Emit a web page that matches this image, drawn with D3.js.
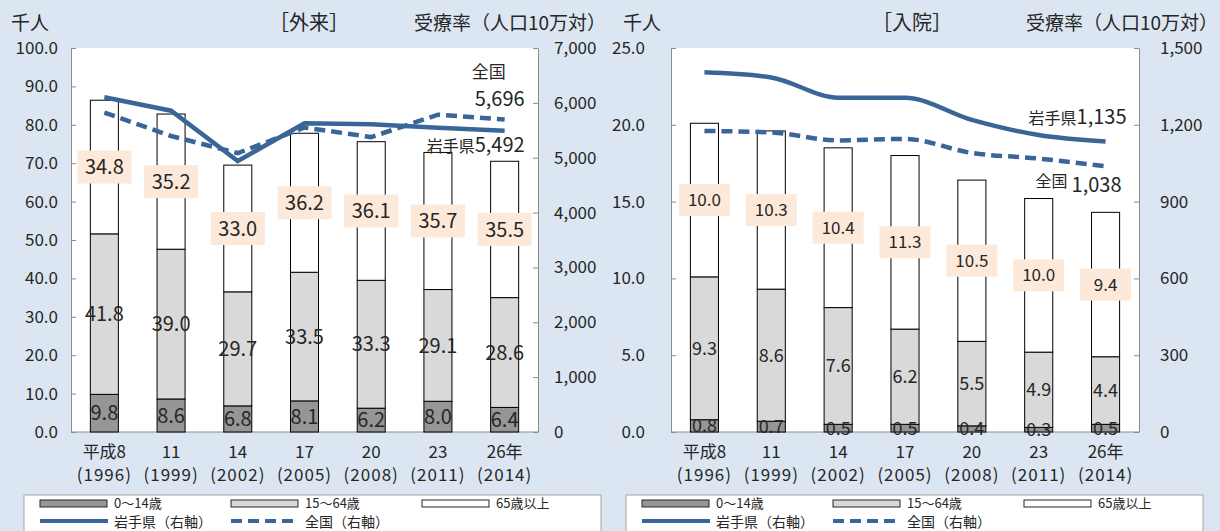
<!DOCTYPE html>
<html>
<head>
<meta charset="utf-8">
<script src="https://cdn.jsdelivr.net/npm/d3@7"></script>
<style>
body { margin: 0; background: #fff; }
text { font-family: "Noto Sans CJK JP", sans-serif; fill: #262626; }
</style>
</head>
<body>
<script>
/*category labels*/
var years = ["平成8", "11", "14", "17", "20", "23", "26年"];
var yearsAD = ["(1996)", "(1999)", "(2002)", "(2005)", "(2008)", "(2011)", "(2014)"];

/*外来 (thousand people) and 受療率*/
var outChild = [9.8, 8.6, 6.8, 8.1, 6.2, 8.0, 6.4];
var outWork = [41.8, 39.0, 29.7, 33.5, 33.3, 29.1, 28.6];
var outElder = [34.8, 35.2, 33.0, 36.2, 36.1, 35.7, 35.5];
var outIwate = [6103, 5857, 4940, 5627, 5610, 5545, 5492];
var outJapan = [5824, 5396, 5083, 5551, 5376, 5784, 5696];

/*入院 (thousand people) and 受療率*/
var inChild = [0.8, 0.7, 0.5, 0.5, 0.4, 0.3, 0.5];
var inWork = [9.3, 8.6, 7.6, 6.2, 5.5, 4.9, 4.4];
var inElder = [10.0, 10.3, 10.4, 11.3, 10.5, 10.0, 9.4];
var inIwate = [1405, 1385, 1306, 1306, 1219, 1160, 1135];
var inJapan = [1176, 1170, 1139, 1145, 1090, 1068, 1038];

/*axis ranges*/
var outLeftTicks = d3.range(0, 100.1, 10);
var outRightTicks = d3.range(0, 7001, 1000);
var inLeftTicks = d3.range(0, 25.1, 5);
var inRightTicks = d3.range(0, 1501, 300);

var ageNames = ["0〜14歳", "15〜64歳", "65歳以上"];
var lineNames = ["岩手県（右軸）", "全国（右軸）"];

var bgColor = "#dce6f2";
var lineColor = "#3a6599";
var ageFills = ["#969696", "#d9d9d9", "#ffffff"];

var svg = d3.select("body").append("svg")
	.attr("width", 1220)
	.attr("height", 531);

svg.append("rect")
	.attr("width", 1220).attr("height", 531)
	.attr("fill", bgColor);

/*left panel: outpatients*/
drawPanel({
	left: 0, x0: 71, x1: 538, y0: 48, y1: 432,
	title: "［外来］", titleX: 309,
	child: outChild, work: outWork, elder: outElder,
	iwate: outIwate, japan: outJapan,
	leftTicks: outLeftTicks, rightTicks: outRightTicks,
	leftPad: 13, rightPad: 16,
	boxW: 54, boxH: 33, boxFont: 20, innerFont: 20,
	smooth: false, legendX: 24, legendW: 577
});

/*right panel: inpatients*/
drawPanel({
	left: 612, x0: 671, x1: 1139, y0: 48, y1: 432,
	title: "［入院］", titleX: 912,
	child: inChild, work: inWork, elder: inElder,
	iwate: inIwate, japan: inJapan,
	leftTicks: inLeftTicks, rightTicks: inRightTicks,
	leftPad: 26, rightPad: 21,
	boxW: 51, boxH: 32, boxFont: 17, innerFont: 18,
	smooth: true, legendX: 626, legendW: 577
});

function drawPanel(cfg) {
	var g = svg.append("g");

	/*plot area*/
	g.append("rect")
		.attr("x", cfg.x0).attr("y", cfg.y0)
		.attr("width", cfg.x1 - cfg.x0).attr("height", cfg.y1 - cfg.y0)
		.attr("fill", "#fff");

	var x = d3.scaleBand()
		.domain(years)
		.range([cfg.x0, cfg.x1])
		.paddingInner(0.58)
		.paddingOuter(0.29);

	var yLeft = d3.scaleLinear()
		.domain([0, d3.max(cfg.leftTicks)])
		.range([cfg.y1, cfg.y0]);

	var yRight = d3.scaleLinear()
		.domain([0, d3.max(cfg.rightTicks)])
		.range([cfg.y1, cfg.y0]);

	/*titles*/
	g.append("text")
		.attr("x", cfg.left + 11).attr("y", 30)
		.style("font-size", "19px")
		.text("千人");
	g.append("text")
		.attr("x", cfg.titleX).attr("y", 30)
		.attr("text-anchor", "middle")
		.style("font-size", "20px")
		.text(cfg.title);
	g.append("text")
		.attr("x", cfg.left + 606).attr("y", 30)
		.attr("text-anchor", "end")
		.style("font-size", "19px")
		.text("受療率（人口10万対）");

	/*axes*/
	var leftAxis = d3.axisLeft(yLeft)
		.tickValues(cfg.leftTicks)
		.tickFormat(d3.format(".1f"))
		.tickSizeInner(-5).tickSizeOuter(0)
		.tickPadding(cfg.leftPad);
	var rightAxis = d3.axisRight(yRight)
		.tickValues(cfg.rightTicks)
		.tickFormat(d3.format(","))
		.tickSizeInner(-5).tickSizeOuter(0)
		.tickPadding(cfg.rightPad);

	g.append("g")
		.attr("transform", "translate(" + cfg.x0 + ",0)")
		.call(leftAxis);
	g.append("g")
		.attr("transform", "translate(" + cfg.x1 + ",0)")
		.call(rightAxis);
	g.selectAll(".domain, .tick line").attr("stroke", "#8c8c8c");
	g.selectAll(".tick text")
		.style("font-size", "17px")
		.attr("fill", "#262626");

	g.append("line")
		.attr("x1", cfg.x0).attr("x2", cfg.x1)
		.attr("y1", cfg.y1).attr("y2", cfg.y1)
		.attr("stroke", "#8c8c8c");

	/*category labels*/
	years.forEach(function (yr, i) {
		var cx = x(yr) + x.bandwidth() / 2;
		g.append("text")
			.attr("x", cx).attr("y", cfg.y1 + 26)
			.attr("text-anchor", "middle")
			.style("font-size", "17px")
			.text(yr);
		g.append("text")
			.attr("x", cx).attr("y", cfg.y1 + 49)
			.attr("text-anchor", "middle")
			.style("font-size", "17px")
			.style("letter-spacing", "1px")
			.text(yearsAD[i]);
	});

	/*stacked bars*/
	var series = [cfg.child, cfg.work, cfg.elder];
	years.forEach(function (yr, i) {
		var base = 0;
		series.forEach(function (s, k) {
			var top = base + s[i];
			g.append("rect")
				.attr("x", x(yr))
				.attr("y", yLeft(top))
				.attr("width", x.bandwidth())
				.attr("height", yLeft(base) - yLeft(top))
				.attr("fill", ageFills[k])
				.attr("stroke", "#000")
				.attr("stroke-width", 1);
			base = top;
		});
	});

	/*segment labels*/
	years.forEach(function (yr, i) {
		var cx = x(yr) + x.bandwidth() / 2;
		var base = 0;
		series.forEach(function (s, k) {
			var mid = yLeft(base + s[i] / 2);
			if (k == 2) {
				g.append("rect")
					.attr("x", cx - cfg.boxW / 2)
					.attr("y", mid - cfg.boxH / 2)
					.attr("width", cfg.boxW).attr("height", cfg.boxH)
					.attr("fill", "#fde9d9");
				g.append("text")
					.attr("x", cx).attr("y", mid)
					.attr("dy", "0.36em")
					.attr("text-anchor", "middle")
					.style("font-size", cfg.boxFont + "px")
					.text(d3.format(".1f")(s[i]));
			} else {
				g.append("text")
					.attr("x", cx).attr("y", mid)
					.attr("dy", "0.36em")
					.attr("text-anchor", "middle")
					.style("font-size", cfg.innerFont + "px")
					.text(d3.format(".1f")(s[i]));
			}
			base += s[i];
		});
	});

	/*rate lines on the right axis*/
	var line = d3.line()
		.x(function (d, i) { return x(years[i]) + x.bandwidth() / 2; })
		.y(function (d) { return yRight(d); })
		.curve(cfg.smooth ? d3.curveMonotoneX : d3.curveLinear);

	g.append("path")
		.attr("d", line(cfg.japan))
		.attr("fill", "none")
		.attr("stroke", lineColor)
		.attr("stroke-width", 4.5)
		.attr("stroke-dasharray", "11,6");
	g.append("path")
		.attr("d", line(cfg.iwate))
		.attr("fill", "none")
		.attr("stroke", lineColor)
		.attr("stroke-width", 4.5);

	/*end labels of lines*/
	var lastX = x(years[6]) + x.bandwidth() / 2;
	var iwateLast = cfg.iwate[6];
	var japanLast = cfg.japan[6];
	if (!cfg.smooth) {
		g.append("text")
			.attr("x", lastX - 16).attr("y", yRight(japanLast) - 42)
			.attr("text-anchor", "middle")
			.style("font-size", "17px")
			.text("全国");
		g.append("text")
			.attr("x", lastX + 20).attr("y", yRight(japanLast) - 14)
			.attr("text-anchor", "end")
			.style("font-size", "20px")
			.text(d3.format(",")(japanLast));
		var t = g.append("text")
			.attr("x", lastX + 20).attr("y", yRight(iwateLast) + 21)
			.attr("text-anchor", "end");
		t.append("tspan").style("font-size", "16px").text("岩手県");
		t.append("tspan").style("font-size", "20px").text(d3.format(",")(iwateLast));
	} else {
		var t2 = g.append("text")
			.attr("x", lastX + 21).attr("y", yRight(iwateLast) - 17)
			.attr("text-anchor", "end");
		t2.append("tspan").style("font-size", "16px").text("岩手県");
		t2.append("tspan").style("font-size", "20px").text(d3.format(",")(iwateLast));
		g.append("text")
			.attr("x", lastX - 70).attr("y", yRight(japanLast) + 21)
			.style("font-size", "16px")
			.text("全国");
		g.append("text")
			.attr("x", lastX + 16).attr("y", yRight(japanLast) + 26)
			.attr("text-anchor", "end")
			.style("font-size", "20px")
			.text(d3.format(",")(japanLast));
	}

	/*legend*/
	var lg = g.append("g");
	lg.append("rect")
		.attr("x", cfg.legendX).attr("y", 495)
		.attr("width", cfg.legendW).attr("height", 45)
		.attr("fill", "#fff")
		.attr("stroke", "#a6a6a6");
	var cols = [16, 207, 398];
	ageNames.forEach(function (name, k) {
		var lx = cfg.legendX + cols[k];
		lg.append("rect")
			.attr("x", lx).attr("y", 500)
			.attr("width", 67).attr("height", 7)
			.attr("fill", ageFills[k])
			.attr("stroke", "#262626");
		lg.append("text")
			.attr("x", lx + 74).attr("y", 508)
			.style("font-size", "13px")
			.text(name);
	});
	lineNames.forEach(function (name, k) {
		var lx = cfg.legendX + cols[k];
		lg.append("line")
			.attr("x1", lx).attr("x2", lx + 68)
			.attr("y1", 521).attr("y2", 521)
			.attr("stroke", lineColor)
			.attr("stroke-width", 4)
			.attr("stroke-dasharray", k == 1 ? "11,6" : null);
		lg.append("text")
			.attr("x", lx + 74).attr("y", 527)
			.style("font-size", "14px")
			.text(name);
	});
}
</script>
</body>
</html>
